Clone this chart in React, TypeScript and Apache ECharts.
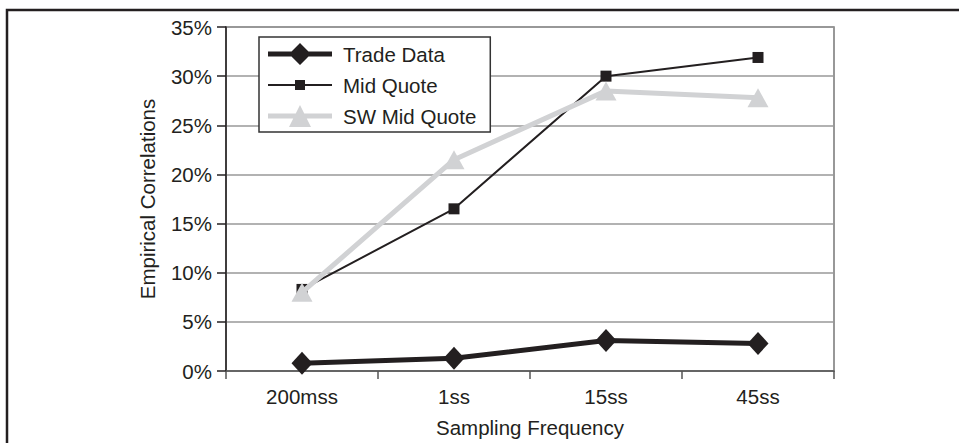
import React, { useEffect, useRef } from "react";
import * as echarts from "echarts";

const categories = ["200mss", "1ss", "15ss", "45ss"];
const tradeData = [0.8, 1.3, 3.1, 2.8];
const midQuote = [8.3, 16.5, 30.0, 31.9];
const swMidQuote = [8.0, 21.5, 28.5, 27.8];
const seriesNames = ["Trade Data", "Mid Quote", "SW Mid Quote"];

const FONT = "Liberation Sans, Arial, sans-serif";
const DARK = "#231f20";
const LIGHT = "#d1d2d4";
const FS = 20.5;

// legend icons (line + marker), drawn in a 64 x 22 box
const BOX = "M0 0h0.01v0.01h-0.01Z M64 22h-0.01v-0.01h0.01Z ";
const iconTrade = "path://" + BOX + "M0 8.5H23.5L32 0L40.5 8.5H64V13.5H40.5L32 22L23.5 13.5H0Z";
const iconMid = "path://" + BOX + "M0 10H27V6H37V10H64V12H37V16H27V12H0Z";
const iconSW = "path://" + BOX + "M0 8.5H27.75L32 0L36.25 8.5H64V13.5H38.75L43 22H21L25.25 13.5H0Z";

export default function App() {
  const ref = useRef<HTMLDivElement>(null);
  useEffect(() => {
    if (!ref.current) return;
    const chart = echarts.init(ref.current, null, { renderer: "svg" });
    chart.setOption({
      animation: false,
      backgroundColor: "#ffffff",
      textStyle: { fontFamily: FONT, color: DARK },
      graphic: [
        {
          type: "rect",
          shape: { x: 7, y: 10, width: 1000, height: 600 },
          style: { fill: "none", stroke: DARK, lineWidth: 2.5 },
          silent: true,
          z: -1,
        },
      ],
      grid: {
        left: 226,
        right: 125,
        top: 27,
        bottom: 66,
        show: true,
        borderColor: "#777",
        borderWidth: 1.5,
      },
      legend: {
        left: 259,
        top: 37,
        orient: "vertical",
        itemWidth: 64,
        itemHeight: 22,
        itemGap: 9,
        padding: [6, 14, 5, 9],
        borderColor: "#333",
        borderWidth: 1.5,
        backgroundColor: "#fff",
        textStyle: { fontFamily: FONT, fontSize: FS, color: DARK, padding: [0, 0, 0, 6] },
        data: [
          { name: seriesNames[0], icon: iconTrade, itemStyle: { color: DARK } },
          { name: seriesNames[1], icon: iconMid, itemStyle: { color: DARK } },
          { name: seriesNames[2], icon: iconSW, itemStyle: { color: LIGHT } },
        ],
      },
      xAxis: {
        type: "category",
        data: categories,
        boundaryGap: true,
        name: "Sampling Frequency",
        nameLocation: "middle",
        nameGap: 46,
        nameTextStyle: { fontFamily: FONT, fontSize: FS, color: DARK },
        axisLine: { lineStyle: { color: "#555", width: 1.5 } },
        axisTick: { show: true, length: 8, inside: false, lineStyle: { color: "#555", width: 1.5 } },
        axisLabel: { fontFamily: FONT, fontSize: FS, color: DARK, margin: 15 },
        splitLine: { show: false },
      },
      yAxis: {
        type: "value",
        min: 0,
        max: 35,
        interval: 5,
        name: "Empirical Correlations",
        nameLocation: "middle",
        nameGap: 68,
        nameTextStyle: { fontFamily: FONT, fontSize: FS, color: DARK },
        axisLine: { show: true, lineStyle: { color: DARK, width: 1.5 } },
        axisTick: { show: true, length: 9, lineStyle: { color: DARK, width: 1.5 } },
        axisLabel: { fontFamily: FONT, fontSize: FS, color: DARK, margin: 14, formatter: "{value}%" },
        splitLine: { show: true, lineStyle: { color: "#999", width: 1.5 } },
      },
      series: [
        {
          name: seriesNames[0],
          type: "line",
          data: tradeData,
          symbol: "diamond",
          symbolSize: [21, 23],
          lineStyle: { color: DARK, width: 5 },
          itemStyle: { color: DARK },
          z: 3,
        },
        {
          name: seriesNames[1],
          type: "line",
          data: midQuote,
          symbol: "rect",
          symbolSize: 11,
          lineStyle: { color: DARK, width: 2 },
          itemStyle: { color: DARK },
          z: 4,
        },
        {
          name: seriesNames[2],
          type: "line",
          data: swMidQuote,
          symbol: "triangle",
          symbolSize: [21, 19],
          lineStyle: { color: LIGHT, width: 5 },
          itemStyle: { color: LIGHT },
          z: 5,
        },
      ],
    });
    return () => chart.dispose();
  }, []);
  return (
    <div
      ref={ref}
      style={{ position: "fixed", left: 0, top: 0, width: 959, height: 443 }}
    />
  );
}
